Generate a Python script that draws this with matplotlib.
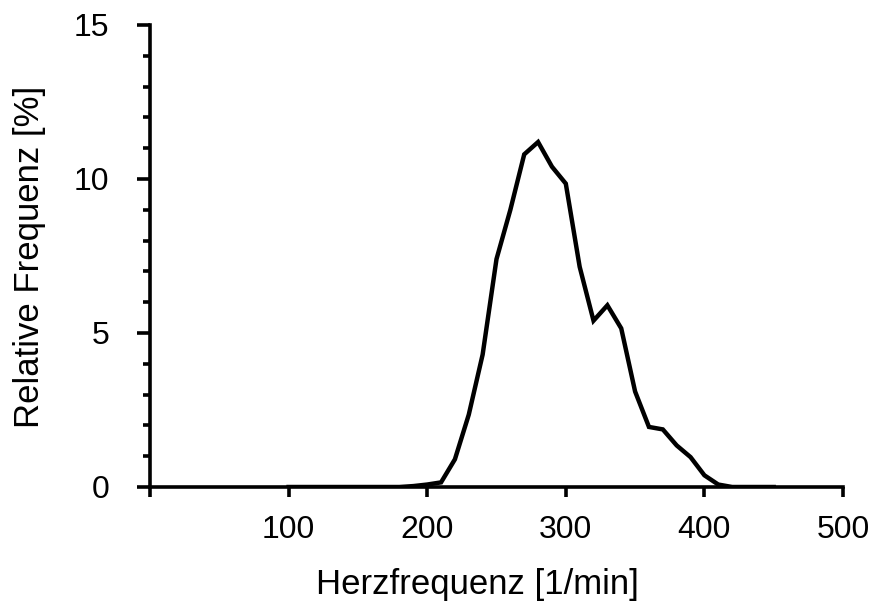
import numpy as np
import matplotlib.pyplot as plt
from matplotlib.ticker import MultipleLocator

plt.rcParams["font.family"] = ["Liberation Sans", "DejaVu Sans"]

# heart rate bins [1/min] and relative frequency [%]
heart_rate = [100, 110, 120, 130, 140, 150, 160, 170, 180, 190,
              200, 210, 220, 230, 240, 250, 260, 270, 280, 290,
              300, 310, 320, 330, 340, 350, 360, 370, 380, 390,
              400, 410, 420, 430, 440, 450]
rel_freq = [0, 0, 0, 0, 0, 0, 0, 0, 0, 0.03,
            0.08, 0.15, 0.9, 2.35, 4.3, 7.4, 9.0, 10.8, 11.2, 10.4,
            9.85, 7.15, 5.4, 5.9, 5.15, 3.1, 1.95, 1.87, 1.35, 0.97,
            0.38, 0.08, 0, 0, 0, 0]

x_ticks = [0, 100, 200, 300, 400, 500]
x_tick_labels = ["", "100", "200", "300", "400", "500"]
y_ticks = [0, 5, 10, 15]

W, H = 872, 610
fig = plt.figure(figsize=(W / 100, H / 100), dpi=100)
ax = fig.add_axes([150 / W, 1 - 487 / H, 693 / W, 462 / H])

ax.plot(heart_rate, rel_freq, color="black", linewidth=3.2,
        solid_joinstyle="miter", zorder=1)

ax.set_xlim(0, 500)
ax.set_ylim(0, 15)
ax.set_xticks(x_ticks)
ax.set_xticklabels(x_tick_labels)
ax.set_yticks(y_ticks)
ax.yaxis.set_minor_locator(MultipleLocator(1))

for side in ("top", "right"):
    ax.spines[side].set_visible(False)
for side in ("left", "bottom"):
    ax.spines[side].set_linewidth(2.6)
    ax.spines[side].set_zorder(3)

ax.tick_params(axis="x", which="major", direction="out", length=7.2,
               width=2.6, labelsize=23, pad=13)
ax.tick_params(axis="y", which="major", direction="out", length=9.4,
               width=2.6, labelsize=23, pad=20)
ax.tick_params(axis="y", which="minor", direction="out", length=5,
               width=2.6)

# axis titles placed in figure pixels
fig.text(477 / W, 1 - 594 / H, "Herzfrequenz [1/min]", fontsize=25,
         ha="center", va="baseline")
fig.text(29 / W, 1 - 257 / H, "Relative Frequenz [%]", fontsize=25,
         rotation=90, ha="center", va="center")

fig.savefig("out.png", dpi=100)
